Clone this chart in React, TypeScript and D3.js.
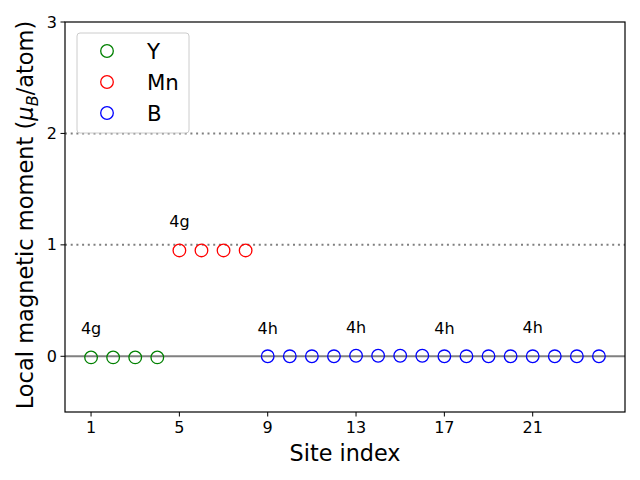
import React from "react";
import * as d3 from "d3";

const ySites = [1, 2, 3, 4];
const yValues = [-0.01, -0.01, -0.01, -0.01];
const mnSites = [5, 6, 7, 8];
const mnValues = [0.95, 0.95, 0.95, 0.95];
const bSites = [9, 10, 11, 12, 13, 14, 15, 16, 17, 18, 19, 20, 21, 22, 23, 24];
const bValues = [0, 0, 0, 0, 0.005, 0.005, 0.005, 0.005, 0, 0, 0, 0, 0, 0, 0, 0];
const xTicks = [1, 5, 9, 13, 17, 21];
const yTicks = [0, 1, 2, 3];
const wyckoffLabels = [
  { x: 1, y: 0.24, t: "4g" },
  { x: 5, y: 1.2, t: "4g" },
  { x: 9, y: 0.24, t: "4h" },
  { x: 13, y: 0.25, t: "4h" },
  { x: 17, y: 0.24, t: "4h" },
  { x: 21, y: 0.25, t: "4h" },
];

const series = [
  { name: "Y", color: "green", sites: ySites, values: yValues },
  { name: "Mn", color: "red", sites: mnSites, values: mnValues },
  { name: "B", color: "blue", sites: bSites, values: bValues },
];

export default function App() {
  const W = 640, H = 480;
  const L = 65, R = 625, T = 22, B = 412;
  const x = d3.scaleLinear().domain([-0.18, 25.18]).range([L, R]);
  const y = d3.scaleLinear().domain([-0.5, 3]).range([B, T]);
  const font = "DejaVu Sans, sans-serif";
  return (
    <svg width={W} height={H} style={{ position: "absolute", left: 0, top: 0 }} fontFamily={font}>
      <rect x={0} y={0} width={W} height={H} fill="white" />
      {[1, 2].map((v) => (
        <line key={v} x1={L} x2={R} y1={y(v)} y2={y(v)} stroke="#808080" strokeWidth={2} strokeDasharray="2,3.7" />
      ))}
      <line x1={L} x2={R} y1={y(0)} y2={y(0)} stroke="#808080" strokeWidth={2} />
      {wyckoffLabels.map((d, i) => (
        <text key={i} x={x(d.x)} y={y(d.y)} textAnchor="middle" dominantBaseline="middle" fontSize={16}>{d.t}</text>
      ))}
      {series.map((s) =>
        s.sites.map((site, i) => (
          <circle key={s.name + i} cx={x(site)} cy={y(s.values[i])} r={6.3} fill="none" stroke={s.color} strokeWidth={1.3} />
        ))
      )}
      <rect x={L} y={T} width={R - L} height={B - T} fill="none" stroke="black" strokeWidth={1.2} />
      {xTicks.map((t) => (
        <g key={t}>
          <line x1={x(t)} x2={x(t)} y1={B} y2={B + 4.5} stroke="black" />
          <text x={x(t)} y={B + 21} textAnchor="middle" fontSize={16}>{t}</text>
        </g>
      ))}
      {yTicks.map((t) => (
        <g key={t}>
          <line x1={L - 4.5} x2={L} y1={y(t)} y2={y(t)} stroke="black" />
          <text x={L - 8} y={y(t)} textAnchor="end" dominantBaseline="central" fontSize={16}>{t}</text>
        </g>
      ))}
      <text x={345} y={461} textAnchor="middle" fontSize={22.3}>Site index</text>
      <text transform={`translate(33,215) rotate(-90)`} textAnchor="middle" fontSize={22.5}>
        Local magnetic moment (
        <tspan fontStyle="italic">μ</tspan>
        <tspan fontStyle="italic" fontSize={16} dy={5}>B</tspan>
        <tspan dy={-5}>/atom)</tspan>
      </text>
      <rect x={77} y={33} width={112} height={100} rx={3} fill="white" fillOpacity={0.8} stroke="#cccccc" />
      {series.map((s, i) => (
        <g key={s.name}>
          <circle cx={107} cy={51 + i * 31} r={6.3} fill="none" stroke={s.color} strokeWidth={1.3} />
          <text x={147} y={51 + i * 31} dominantBaseline="central" fontSize={21.3}>{s.name}</text>
        </g>
      ))}
    </svg>
  );
}
